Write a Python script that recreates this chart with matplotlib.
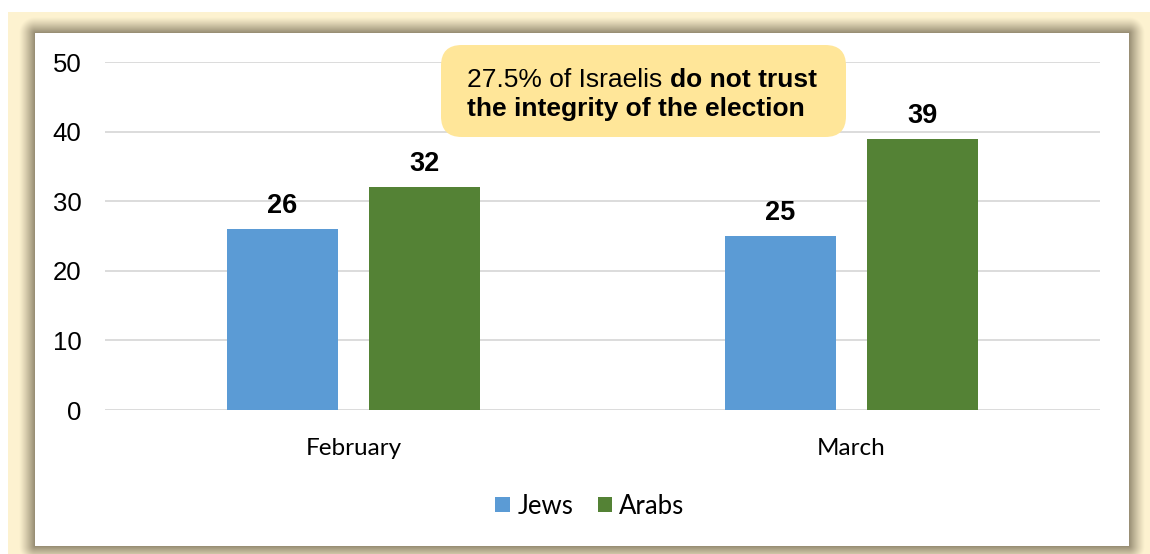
import numpy as np
import matplotlib
matplotlib.use("Agg")
import matplotlib.pyplot as plt
from matplotlib.patches import FancyBboxPatch, Patch

# ---- data ----
months = ["February", "March"]
jews = [26, 25]
arabs = [32, 39]
series_names = ["Jews", "Arabs"]
yticks = [0, 10, 20, 30, 40, 50]

W, H = 1150, 554
fig = plt.figure(figsize=(W / 100, H / 100), dpi=100)
fig.patch.set_facecolor("white")

# ---- framed background with soft shadow around the white panel ----
cream = np.array([253, 242, 208]) / 255.0
shade = np.array([150, 140, 114]) / 255.0
yy, xx = np.mgrid[0:H, 0:W] + 0.5
px0, px1, py0, py1 = 35, 1129, 33, 546
dx = np.maximum(np.maximum(px0 - xx, xx - px1), 0)
dy = np.maximum(np.maximum(py0 - yy, yy - py1), 0)
d = np.hypot(dx, dy)
a = np.clip(1 - d / 16.0, 0, 1) ** 1.2
img = cream[None, None, :] * (1 - a[..., None]) + shade[None, None, :] * a[..., None]
inside = (xx >= px0) & (xx <= px1) & (yy >= py0) & (yy <= py1)
img[inside] = 1.0
outside_frame = (xx < 8) | (yy < 12)
img[outside_frame] = 1.0
bg = fig.add_axes([0, 0, 1, 1], zorder=-10)
bg.imshow(img, extent=(0, W, H, 0), interpolation="bilinear", aspect="auto")
bg.set_xlim(0, W)
bg.set_ylim(H, 0)
bg.axis("off")

# ---- bar chart ----
ax = fig.add_axes([105 / W, 1 - 410 / H, (1100 - 105) / W, (410 - 62) / H])
ax.set_facecolor("none")
x = np.arange(len(months))
width = 0.223
off = 0.143
b1 = ax.bar(x - off, jews, width, color="#5B9BD5", zorder=3, label=series_names[0])
b2 = ax.bar(x + off, arabs, width, color="#548235", zorder=3, label=series_names[1])

for bars, vals in ((b1, jews), (b2, arabs)):
    for rect, v in zip(bars, vals):
        ax.annotate(f"{v}", xy=(rect.get_x() + rect.get_width() / 2, v),
                    xytext=(0, 11.5), textcoords="offset points",
                    ha="center", va="baseline", fontsize=19.5,
                    fontweight="bold", family="Liberation Sans", zorder=5)

ax.set_xlim(-0.5, 1.5)
ax.set_ylim(0, 50)
ax.set_yticks(yticks)
ax.set_yticklabels([str(t) for t in yticks], family="Liberation Sans", fontsize=18.5)
ax.set_xticks(x)
ax.set_xticklabels(months, family="Lato", fontsize=17.5)
ax.tick_params(axis="y", length=0, pad=17)
ax.tick_params(axis="x", length=0, pad=20)
ax.grid(axis="y", color="#D9D9D9", linewidth=1.3, zorder=0)
for s in ax.spines.values():
    s.set_visible(False)

handles = [Patch(facecolor="#5B9BD5"), Patch(facecolor="#548235")]
fig.legend(handles, series_names, loc="center", bbox_to_anchor=(590 / W, 1 - 506 / H),
           ncol=2, frameon=False, prop={"family": "Lato", "size": 18.5},
           handlelength=0.55, handleheight=0.55, handletextpad=0.3, columnspacing=0.95)

# ---- callout ----
bx0, bx1, by0, by1 = 441, 846, 45, 137
box = FancyBboxPatch((bx0 / W, 1 - by1 / H), (bx1 - bx0) / W, (by1 - by0) / H,
                     boxstyle="round,pad=0,rounding_size=0.018",
                     transform=fig.transFigure, facecolor="#FFE699",
                     edgecolor="none", zorder=6, mutation_aspect=W / H)
fig.add_artist(box)
t1 = fig.text(467 / W, 1 - 87 / H, "27.5% of Israelis ", family="Liberation Sans",
              fontsize=19, va="baseline", ha="left", zorder=7)
fig.text(467 / W, 1 - 116 / H, "the integrity of the election", family="Liberation Sans",
         fontsize=19, fontweight="bold", va="baseline", ha="left", zorder=7)
fig.canvas.draw()
ext = t1.get_window_extent(renderer=fig.canvas.get_renderer())
fig.text(ext.x1 / W, 1 - 87 / H, "do not trust", family="Liberation Sans",
         fontsize=19, fontweight="bold", va="baseline", ha="left", zorder=7)

fig.savefig("out.png", dpi=100)
